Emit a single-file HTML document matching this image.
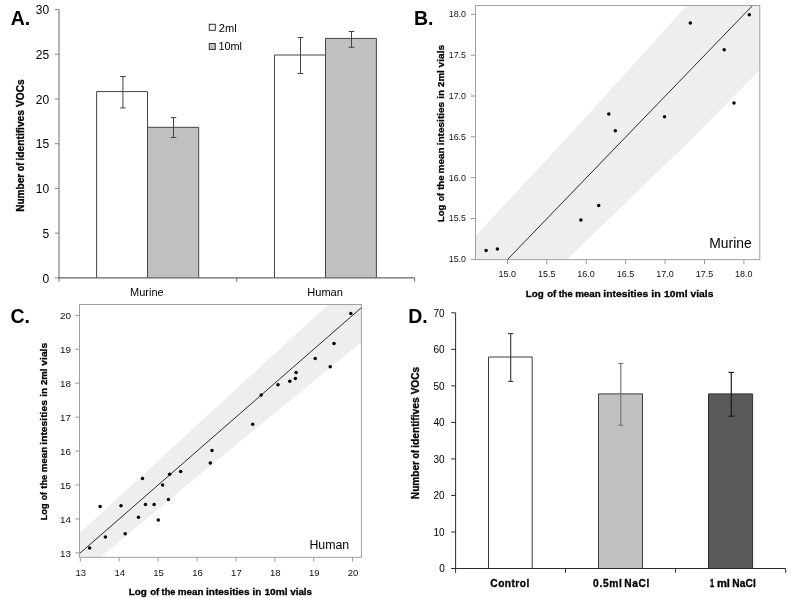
<!DOCTYPE html>
<html><head><meta charset="utf-8"><title>Figure</title>
<style>html,body{margin:0;padding:0;background:#fff;}svg{display:block;will-change:transform;font-family:"Liberation Sans",sans-serif;}text{font-family:"Liberation Sans",sans-serif;}</style></head><body>
<svg width="798" height="598" viewBox="0 0 798 598">
<rect x="0" y="0" width="798" height="598" fill="#ffffff"/>
<!-- Panel A -->
<path d="M96.6,277.9 V91.6 H147.5 V277.9" fill="#fff" stroke="#444" stroke-width="1"/>
<path d="M147.5,277.9 V127.3 H198.7 V277.9" fill="#c0c0c0" stroke="#444" stroke-width="1"/>
<path d="M274.5,277.9 V55.0 H325.5 V277.9" fill="#fff" stroke="#444" stroke-width="1"/>
<path d="M325.5,277.9 V38.4 H376.4 V277.9" fill="#c0c0c0" stroke="#444" stroke-width="1"/>
<line x1="122.9" y1="76.5" x2="122.9" y2="107.9" stroke="#444" stroke-width="1"/>
<line x1="120.1" y1="76.5" x2="125.7" y2="76.5" stroke="#444" stroke-width="1"/>
<line x1="120.1" y1="107.9" x2="125.7" y2="107.9" stroke="#444" stroke-width="1"/>
<line x1="173.5" y1="117.6" x2="173.5" y2="137.5" stroke="#444" stroke-width="1"/>
<line x1="170.7" y1="117.6" x2="176.3" y2="117.6" stroke="#444" stroke-width="1"/>
<line x1="170.7" y1="137.5" x2="176.3" y2="137.5" stroke="#444" stroke-width="1"/>
<line x1="300.5" y1="37.5" x2="300.5" y2="73.5" stroke="#444" stroke-width="1"/>
<line x1="297.7" y1="37.5" x2="303.3" y2="37.5" stroke="#444" stroke-width="1"/>
<line x1="297.7" y1="73.5" x2="303.3" y2="73.5" stroke="#444" stroke-width="1"/>
<line x1="351.5" y1="31.5" x2="351.5" y2="47.3" stroke="#444" stroke-width="1"/>
<line x1="348.7" y1="31.5" x2="354.3" y2="31.5" stroke="#444" stroke-width="1"/>
<line x1="348.7" y1="47.3" x2="354.3" y2="47.3" stroke="#444" stroke-width="1"/>
<line x1="59.0" y1="9.5" x2="59.0" y2="277.9" stroke="#8c8c8c" stroke-width="1.3"/>
<line x1="58.4" y1="277.9" x2="414.6" y2="277.9" stroke="#666" stroke-width="1.2"/>
<line x1="54.8" y1="277.9" x2="59.0" y2="277.9" stroke="#868686" stroke-width="1"/>
<text x="49.1" y="282.6" font-size="12" text-anchor="end" fill="#000">0</text>
<line x1="54.8" y1="233.17" x2="59.0" y2="233.17" stroke="#868686" stroke-width="1"/>
<text x="49.1" y="237.9" font-size="12" text-anchor="end" fill="#000">5</text>
<line x1="54.8" y1="188.43" x2="59.0" y2="188.43" stroke="#868686" stroke-width="1"/>
<text x="49.1" y="193.1" font-size="12" text-anchor="end" fill="#000">10</text>
<line x1="54.8" y1="143.7" x2="59.0" y2="143.7" stroke="#868686" stroke-width="1"/>
<text x="49.1" y="148.4" font-size="12" text-anchor="end" fill="#000">15</text>
<line x1="54.8" y1="98.97" x2="59.0" y2="98.97" stroke="#868686" stroke-width="1"/>
<text x="49.1" y="103.7" font-size="12" text-anchor="end" fill="#000">20</text>
<line x1="54.8" y1="54.23" x2="59.0" y2="54.23" stroke="#868686" stroke-width="1"/>
<text x="49.1" y="58.9" font-size="12" text-anchor="end" fill="#000">25</text>
<line x1="54.8" y1="9.5" x2="59.0" y2="9.5" stroke="#868686" stroke-width="1"/>
<text x="49.1" y="14.2" font-size="12" text-anchor="end" fill="#000">30</text>
<line x1="59.0" y1="277.9" x2="59.0" y2="281.6" stroke="#666" stroke-width="1"/>
<line x1="236.8" y1="277.9" x2="236.8" y2="281.6" stroke="#666" stroke-width="1"/>
<line x1="414.6" y1="277.9" x2="414.6" y2="281.6" stroke="#666" stroke-width="1"/>
<text x="130.1" y="296" font-size="11" text-anchor="start" fill="#000" textLength="33.5" lengthAdjust="spacingAndGlyphs">Murine</text>
<text x="307.3" y="296" font-size="11" text-anchor="start" fill="#000" textLength="35.6" lengthAdjust="spacingAndGlyphs">Human</text>
<rect x="209.3" y="24.3" width="6.0" height="6.0" fill="#fff" stroke="#333" stroke-width="1"/>
<rect x="209.3" y="43.5" width="6.0" height="6.0" fill="#c0c0c0" stroke="#333" stroke-width="1"/>
<text x="218.8" y="31.7" font-size="10.5" text-anchor="start" fill="#000" textLength="17.8" lengthAdjust="spacingAndGlyphs">2ml</text>
<text x="218.4" y="50.3" font-size="10.5" text-anchor="start" fill="#000" textLength="23.6" lengthAdjust="spacingAndGlyphs">10ml</text>
<text x="10.7" y="24.8" font-size="19.5" text-anchor="start" fill="#000" font-weight="bold">A.</text>
<text x="24.4" y="211.86" font-size="10" text-anchor="start" fill="#000" font-weight="bold" stroke="#000" stroke-width="0.3" textLength="38.19" lengthAdjust="spacingAndGlyphs" transform="rotate(-90 24.4 211.86)">Number</text>
<text x="24.4" y="171.13" font-size="10" text-anchor="start" fill="#000" font-weight="bold" stroke="#000" stroke-width="0.3" textLength="8.42" lengthAdjust="spacingAndGlyphs" transform="rotate(-90 24.4 171.13)">of</text>
<text x="24.4" y="160.49" font-size="10" text-anchor="start" fill="#000" font-weight="bold" stroke="#000" stroke-width="0.3" textLength="50.48" lengthAdjust="spacingAndGlyphs" transform="rotate(-90 24.4 160.49)">identifives</text>
<text x="24.4" y="106.95" font-size="10" text-anchor="start" fill="#000" font-weight="bold" stroke="#000" stroke-width="0.3" textLength="27.54" lengthAdjust="spacingAndGlyphs" transform="rotate(-90 24.4 106.95)">VOCs</text>
<!-- Panel B -->
<polygon points="475.5,235.8 555.6,150 600,101.6 686.6,5.5 759.8,5.5 759.8,70.3 680.3,150 566.9,259.6 475.5,259.6" fill="#eeeeee"/>
<line x1="507.4" y1="259.6" x2="752.6" y2="5.5" stroke="#222" stroke-width="0.95"/>
<circle cx="486.1" cy="250.4" r="1.75" fill="#000"/>
<circle cx="497.4" cy="249.1" r="1.75" fill="#000"/>
<circle cx="580.9" cy="220" r="1.75" fill="#000"/>
<circle cx="598.7" cy="205.5" r="1.75" fill="#000"/>
<circle cx="608.8" cy="113.9" r="1.75" fill="#000"/>
<circle cx="615.3" cy="130.7" r="1.75" fill="#000"/>
<circle cx="664.5" cy="116.7" r="1.75" fill="#000"/>
<circle cx="690.3" cy="23.1" r="1.75" fill="#000"/>
<circle cx="724.2" cy="49.7" r="1.75" fill="#000"/>
<circle cx="734" cy="103.1" r="1.75" fill="#000"/>
<circle cx="749.3" cy="14.8" r="1.75" fill="#000"/>
<rect x="475.5" y="5.5" width="284.3" height="254.1" fill="none" stroke="#a0a0a0" stroke-width="1"/>
<line x1="470.8" y1="259.4" x2="475.5" y2="259.4" stroke="#999" stroke-width="1"/>
<text x="466" y="262.3" font-size="9.5" text-anchor="end" fill="#111" textLength="17.3" lengthAdjust="spacingAndGlyphs">15.0</text>
<line x1="507.4" y1="259.6" x2="507.4" y2="264.2" stroke="#999" stroke-width="1"/>
<text x="507.3" y="276.8" font-size="9.5" text-anchor="middle" fill="#111" textLength="17.5" lengthAdjust="spacingAndGlyphs">15.0</text>
<line x1="470.8" y1="218.55" x2="475.5" y2="218.55" stroke="#999" stroke-width="1"/>
<text x="466" y="221.4" font-size="9.5" text-anchor="end" fill="#111" textLength="17.3" lengthAdjust="spacingAndGlyphs">15.5</text>
<line x1="546.82" y1="259.6" x2="546.82" y2="264.2" stroke="#999" stroke-width="1"/>
<text x="546.7" y="276.8" font-size="9.5" text-anchor="middle" fill="#111" textLength="17.5" lengthAdjust="spacingAndGlyphs">15.5</text>
<line x1="470.8" y1="177.7" x2="475.5" y2="177.7" stroke="#999" stroke-width="1"/>
<text x="466" y="180.6" font-size="9.5" text-anchor="end" fill="#111" textLength="17.3" lengthAdjust="spacingAndGlyphs">16.0</text>
<line x1="586.25" y1="259.6" x2="586.25" y2="264.2" stroke="#999" stroke-width="1"/>
<text x="586.1" y="276.8" font-size="9.5" text-anchor="middle" fill="#111" textLength="17.5" lengthAdjust="spacingAndGlyphs">16.0</text>
<line x1="470.8" y1="136.85" x2="475.5" y2="136.85" stroke="#999" stroke-width="1"/>
<text x="466" y="139.7" font-size="9.5" text-anchor="end" fill="#111" textLength="17.3" lengthAdjust="spacingAndGlyphs">16.5</text>
<line x1="625.67" y1="259.6" x2="625.67" y2="264.2" stroke="#999" stroke-width="1"/>
<text x="625.6" y="276.8" font-size="9.5" text-anchor="middle" fill="#111" textLength="17.5" lengthAdjust="spacingAndGlyphs">16.5</text>
<line x1="470.8" y1="96.0" x2="475.5" y2="96.0" stroke="#999" stroke-width="1"/>
<text x="466" y="98.9" font-size="9.5" text-anchor="end" fill="#111" textLength="17.3" lengthAdjust="spacingAndGlyphs">17.0</text>
<line x1="665.1" y1="259.6" x2="665.1" y2="264.2" stroke="#999" stroke-width="1"/>
<text x="665.0" y="276.8" font-size="9.5" text-anchor="middle" fill="#111" textLength="17.5" lengthAdjust="spacingAndGlyphs">17.0</text>
<line x1="470.8" y1="55.15" x2="475.5" y2="55.15" stroke="#999" stroke-width="1"/>
<text x="466" y="58.0" font-size="9.5" text-anchor="end" fill="#111" textLength="17.3" lengthAdjust="spacingAndGlyphs">17.5</text>
<line x1="704.52" y1="259.6" x2="704.52" y2="264.2" stroke="#999" stroke-width="1"/>
<text x="704.4" y="276.8" font-size="9.5" text-anchor="middle" fill="#111" textLength="17.5" lengthAdjust="spacingAndGlyphs">17.5</text>
<line x1="470.8" y1="14.3" x2="475.5" y2="14.3" stroke="#999" stroke-width="1"/>
<text x="466" y="17.2" font-size="9.5" text-anchor="end" fill="#111" textLength="17.3" lengthAdjust="spacingAndGlyphs">18.0</text>
<line x1="743.95" y1="259.6" x2="743.95" y2="264.2" stroke="#999" stroke-width="1"/>
<text x="743.8" y="276.8" font-size="9.5" text-anchor="middle" fill="#111" textLength="17.5" lengthAdjust="spacingAndGlyphs">18.0</text>
<text x="709.3" y="247.7" font-size="14.5" text-anchor="start" fill="#000" textLength="42.4" lengthAdjust="spacingAndGlyphs">Murine</text>
<text x="414.0" y="24.6" font-size="19.5" text-anchor="start" fill="#000" font-weight="bold">B.</text>
<text x="525.86" y="296.8" font-size="9.7" text-anchor="start" fill="#000" font-weight="bold" stroke="#000" stroke-width="0.3" textLength="17.98" lengthAdjust="spacingAndGlyphs">Log</text>
<text x="547.24" y="296.8" font-size="9.7" text-anchor="start" fill="#000" font-weight="bold" stroke="#000" stroke-width="0.3" textLength="9.05" lengthAdjust="spacingAndGlyphs">of</text>
<text x="558.71" y="296.8" font-size="9.7" text-anchor="start" fill="#000" font-weight="bold" stroke="#000" stroke-width="0.3" textLength="14.0" lengthAdjust="spacingAndGlyphs">the</text>
<text x="575.16" y="296.8" font-size="9.7" text-anchor="start" fill="#000" font-weight="bold" stroke="#000" stroke-width="0.3" textLength="25.62" lengthAdjust="spacingAndGlyphs">mean</text>
<text x="603.3" y="296.8" font-size="9.7" text-anchor="start" fill="#000" font-weight="bold" stroke="#000" stroke-width="0.3" textLength="44.89" lengthAdjust="spacingAndGlyphs">intesities</text>
<text x="651.28" y="296.8" font-size="9.7" text-anchor="start" fill="#000" font-weight="bold" stroke="#000" stroke-width="0.3" textLength="9.47" lengthAdjust="spacingAndGlyphs">in</text>
<text x="664.06" y="296.8" font-size="9.7" text-anchor="start" fill="#000" font-weight="bold" stroke="#000" stroke-width="0.3" textLength="23.46" lengthAdjust="spacingAndGlyphs">10ml</text>
<text x="690.57" y="296.8" font-size="9.7" text-anchor="start" fill="#000" font-weight="bold" stroke="#000" stroke-width="0.3" textLength="22.83" lengthAdjust="spacingAndGlyphs">vials</text>
<text x="443.9" y="221.9" font-size="9.7" text-anchor="start" fill="#000" font-weight="bold" stroke="#000" stroke-width="0.3" textLength="17.01" lengthAdjust="spacingAndGlyphs" transform="rotate(-90 443.9 221.9)">Log</text>
<text x="443.9" y="201.33" font-size="9.7" text-anchor="start" fill="#000" font-weight="bold" stroke="#000" stroke-width="0.3" textLength="8.22" lengthAdjust="spacingAndGlyphs" transform="rotate(-90 443.9 201.33)">of</text>
<text x="443.9" y="189.8" font-size="9.7" text-anchor="start" fill="#000" font-weight="bold" stroke="#000" stroke-width="0.3" textLength="14.31" lengthAdjust="spacingAndGlyphs" transform="rotate(-90 443.9 189.8)">the</text>
<text x="443.9" y="173.45" font-size="9.7" text-anchor="start" fill="#000" font-weight="bold" stroke="#000" stroke-width="0.3" textLength="26.05" lengthAdjust="spacingAndGlyphs" transform="rotate(-90 443.9 173.45)">mean</text>
<text x="443.9" y="145.28" font-size="9.7" text-anchor="start" fill="#000" font-weight="bold" stroke="#000" stroke-width="0.3" textLength="43.45" lengthAdjust="spacingAndGlyphs" transform="rotate(-90 443.9 145.28)">intesities</text>
<text x="443.9" y="98.67" font-size="9.7" text-anchor="start" fill="#000" font-weight="bold" stroke="#000" stroke-width="0.3" textLength="8.77" lengthAdjust="spacingAndGlyphs" transform="rotate(-90 443.9 98.67)">in</text>
<text x="443.9" y="87.02" font-size="9.7" text-anchor="start" fill="#000" font-weight="bold" stroke="#000" stroke-width="0.3" textLength="16.81" lengthAdjust="spacingAndGlyphs" transform="rotate(-90 443.9 87.02)">2ml</text>
<text x="443.9" y="67.43" font-size="9.7" text-anchor="start" fill="#000" font-weight="bold" stroke="#000" stroke-width="0.3" textLength="22.52" lengthAdjust="spacingAndGlyphs" transform="rotate(-90 443.9 67.43)">vials</text>
<!-- Panel C -->
<polygon points="79.5,533.3 200,422.2 328.3,304.5 361.4,304.5 361.4,341.9 232.1,448 200,474.3 100.4,557.3 79.5,557.3" fill="#eeeeee"/>
<line x1="79.5" y1="553.6" x2="361.4" y2="307.64" stroke="#222" stroke-width="0.95"/>
<circle cx="89.6" cy="547.9" r="1.75" fill="#000"/>
<circle cx="105.4" cy="537.1" r="1.75" fill="#000"/>
<circle cx="100.1" cy="506.5" r="1.75" fill="#000"/>
<circle cx="121" cy="505.7" r="1.75" fill="#000"/>
<circle cx="125.2" cy="533.8" r="1.75" fill="#000"/>
<circle cx="138.5" cy="517.3" r="1.75" fill="#000"/>
<circle cx="142.5" cy="478.4" r="1.75" fill="#000"/>
<circle cx="145.5" cy="504.5" r="1.75" fill="#000"/>
<circle cx="154.1" cy="504.5" r="1.75" fill="#000"/>
<circle cx="158.3" cy="520" r="1.75" fill="#000"/>
<circle cx="162.6" cy="484.9" r="1.75" fill="#000"/>
<circle cx="168.4" cy="499.4" r="1.75" fill="#000"/>
<circle cx="169.6" cy="474.3" r="1.75" fill="#000"/>
<circle cx="180.7" cy="471.6" r="1.75" fill="#000"/>
<circle cx="212" cy="450.5" r="1.75" fill="#000"/>
<circle cx="210.3" cy="463.1" r="1.75" fill="#000"/>
<circle cx="350.8" cy="313.6" r="1.75" fill="#000"/>
<circle cx="334" cy="343.4" r="1.75" fill="#000"/>
<circle cx="315.2" cy="358.5" r="1.75" fill="#000"/>
<circle cx="330.2" cy="366.8" r="1.75" fill="#000"/>
<circle cx="296.1" cy="372.5" r="1.75" fill="#000"/>
<circle cx="295.4" cy="378.6" r="1.75" fill="#000"/>
<circle cx="289.8" cy="381.3" r="1.75" fill="#000"/>
<circle cx="278" cy="384.8" r="1.75" fill="#000"/>
<circle cx="261.2" cy="395.1" r="1.75" fill="#000"/>
<circle cx="252.7" cy="424.2" r="1.75" fill="#000"/>
<rect x="79.5" y="304.5" width="281.9" height="252.8" fill="none" stroke="#a0a0a0" stroke-width="1"/>
<line x1="75.2" y1="552.9" x2="79.5" y2="552.9" stroke="#999" stroke-width="1"/>
<text x="71.0" y="556.6" font-size="9.6" text-anchor="end" fill="#111" textLength="11.0" lengthAdjust="spacingAndGlyphs">13</text>
<line x1="80.3" y1="557.3" x2="80.3" y2="561.5" stroke="#999" stroke-width="1"/>
<text x="80.8" y="575.6" font-size="9.6" text-anchor="middle" fill="#111" textLength="10.6" lengthAdjust="spacingAndGlyphs">13</text>
<line x1="75.2" y1="518.96" x2="79.5" y2="518.96" stroke="#999" stroke-width="1"/>
<text x="71.0" y="522.7" font-size="9.6" text-anchor="end" fill="#111" textLength="11.0" lengthAdjust="spacingAndGlyphs">14</text>
<line x1="119.2" y1="557.3" x2="119.2" y2="561.5" stroke="#999" stroke-width="1"/>
<text x="119.7" y="575.6" font-size="9.6" text-anchor="middle" fill="#111" textLength="10.6" lengthAdjust="spacingAndGlyphs">14</text>
<line x1="75.2" y1="485.02" x2="79.5" y2="485.02" stroke="#999" stroke-width="1"/>
<text x="71.0" y="488.7" font-size="9.6" text-anchor="end" fill="#111" textLength="11.0" lengthAdjust="spacingAndGlyphs">15</text>
<line x1="158.1" y1="557.3" x2="158.1" y2="561.5" stroke="#999" stroke-width="1"/>
<text x="158.6" y="575.6" font-size="9.6" text-anchor="middle" fill="#111" textLength="10.6" lengthAdjust="spacingAndGlyphs">15</text>
<line x1="75.2" y1="451.08" x2="79.5" y2="451.08" stroke="#999" stroke-width="1"/>
<text x="71.0" y="454.8" font-size="9.6" text-anchor="end" fill="#111" textLength="11.0" lengthAdjust="spacingAndGlyphs">16</text>
<line x1="197.0" y1="557.3" x2="197.0" y2="561.5" stroke="#999" stroke-width="1"/>
<text x="197.5" y="575.6" font-size="9.6" text-anchor="middle" fill="#111" textLength="10.6" lengthAdjust="spacingAndGlyphs">16</text>
<line x1="75.2" y1="417.14" x2="79.5" y2="417.14" stroke="#999" stroke-width="1"/>
<text x="71.0" y="420.8" font-size="9.6" text-anchor="end" fill="#111" textLength="11.0" lengthAdjust="spacingAndGlyphs">17</text>
<line x1="235.9" y1="557.3" x2="235.9" y2="561.5" stroke="#999" stroke-width="1"/>
<text x="236.4" y="575.6" font-size="9.6" text-anchor="middle" fill="#111" textLength="10.6" lengthAdjust="spacingAndGlyphs">17</text>
<line x1="75.2" y1="383.2" x2="79.5" y2="383.2" stroke="#999" stroke-width="1"/>
<text x="71.0" y="386.9" font-size="9.6" text-anchor="end" fill="#111" textLength="11.0" lengthAdjust="spacingAndGlyphs">18</text>
<line x1="274.8" y1="557.3" x2="274.8" y2="561.5" stroke="#999" stroke-width="1"/>
<text x="275.3" y="575.6" font-size="9.6" text-anchor="middle" fill="#111" textLength="10.6" lengthAdjust="spacingAndGlyphs">18</text>
<line x1="75.2" y1="349.26" x2="79.5" y2="349.26" stroke="#999" stroke-width="1"/>
<text x="71.0" y="353.0" font-size="9.6" text-anchor="end" fill="#111" textLength="11.0" lengthAdjust="spacingAndGlyphs">19</text>
<line x1="313.7" y1="557.3" x2="313.7" y2="561.5" stroke="#999" stroke-width="1"/>
<text x="314.2" y="575.6" font-size="9.6" text-anchor="middle" fill="#111" textLength="10.6" lengthAdjust="spacingAndGlyphs">19</text>
<line x1="75.2" y1="315.32" x2="79.5" y2="315.32" stroke="#999" stroke-width="1"/>
<text x="71.0" y="319.0" font-size="9.6" text-anchor="end" fill="#111" textLength="11.0" lengthAdjust="spacingAndGlyphs">20</text>
<line x1="352.6" y1="557.3" x2="352.6" y2="561.5" stroke="#999" stroke-width="1"/>
<text x="353.1" y="575.6" font-size="9.6" text-anchor="middle" fill="#111" textLength="10.6" lengthAdjust="spacingAndGlyphs">20</text>
<text x="309.4" y="548.9" font-size="12.5" text-anchor="start" fill="#000" textLength="39.8" lengthAdjust="spacingAndGlyphs">Human</text>
<text x="10.5" y="323.1" font-size="19.5" text-anchor="start" fill="#000" font-weight="bold">C.</text>
<text x="128.75" y="594.6" font-size="9.7" text-anchor="start" fill="#000" font-weight="bold" stroke="#000" stroke-width="0.3" textLength="18.19" lengthAdjust="spacingAndGlyphs">Log</text>
<text x="150.14" y="594.6" font-size="9.7" text-anchor="start" fill="#000" font-weight="bold" stroke="#000" stroke-width="0.3" textLength="9.05" lengthAdjust="spacingAndGlyphs">of</text>
<text x="161.61" y="594.6" font-size="9.7" text-anchor="start" fill="#000" font-weight="bold" stroke="#000" stroke-width="0.3" textLength="13.79" lengthAdjust="spacingAndGlyphs">the</text>
<text x="177.86" y="594.6" font-size="9.7" text-anchor="start" fill="#000" font-weight="bold" stroke="#000" stroke-width="0.3" textLength="25.73" lengthAdjust="spacingAndGlyphs">mean</text>
<text x="206.02" y="594.6" font-size="9.7" text-anchor="start" fill="#000" font-weight="bold" stroke="#000" stroke-width="0.3" textLength="43.45" lengthAdjust="spacingAndGlyphs">intesities</text>
<text x="252.53" y="594.6" font-size="9.7" text-anchor="start" fill="#000" font-weight="bold" stroke="#000" stroke-width="0.3" textLength="8.77" lengthAdjust="spacingAndGlyphs">in</text>
<text x="264.46" y="594.6" font-size="9.7" text-anchor="start" fill="#000" font-weight="bold" stroke="#000" stroke-width="0.3" textLength="23.24" lengthAdjust="spacingAndGlyphs">10ml</text>
<text x="290.18" y="594.6" font-size="9.7" text-anchor="start" fill="#000" font-weight="bold" stroke="#000" stroke-width="0.3" textLength="21.91" lengthAdjust="spacingAndGlyphs">vials</text>
<text x="47.1" y="520.3" font-size="9.7" text-anchor="start" fill="#000" font-weight="bold" stroke="#000" stroke-width="0.3" textLength="16.9" lengthAdjust="spacingAndGlyphs" transform="rotate(-90 47.1 520.3)">Log</text>
<text x="47.1" y="500.23" font-size="9.7" text-anchor="start" fill="#000" font-weight="bold" stroke="#000" stroke-width="0.3" textLength="8.22" lengthAdjust="spacingAndGlyphs" transform="rotate(-90 47.1 500.23)">of</text>
<text x="47.1" y="488.69" font-size="9.7" text-anchor="start" fill="#000" font-weight="bold" stroke="#000" stroke-width="0.3" textLength="13.89" lengthAdjust="spacingAndGlyphs" transform="rotate(-90 47.1 488.69)">the</text>
<text x="47.1" y="472.34" font-size="9.7" text-anchor="start" fill="#000" font-weight="bold" stroke="#000" stroke-width="0.3" textLength="25.62" lengthAdjust="spacingAndGlyphs" transform="rotate(-90 47.1 472.34)">mean</text>
<text x="47.1" y="444.69" font-size="9.7" text-anchor="start" fill="#000" font-weight="bold" stroke="#000" stroke-width="0.3" textLength="44.58" lengthAdjust="spacingAndGlyphs" transform="rotate(-90 47.1 444.69)">intesities</text>
<text x="47.1" y="396.67" font-size="9.7" text-anchor="start" fill="#000" font-weight="bold" stroke="#000" stroke-width="0.3" textLength="8.77" lengthAdjust="spacingAndGlyphs" transform="rotate(-90 47.1 396.67)">in</text>
<text x="47.1" y="385.01" font-size="9.7" text-anchor="start" fill="#000" font-weight="bold" stroke="#000" stroke-width="0.3" textLength="16.49" lengthAdjust="spacingAndGlyphs" transform="rotate(-90 47.1 385.01)">2ml</text>
<text x="47.1" y="365.63" font-size="9.7" text-anchor="start" fill="#000" font-weight="bold" stroke="#000" stroke-width="0.3" textLength="22.73" lengthAdjust="spacingAndGlyphs" transform="rotate(-90 47.1 365.63)">vials</text>
<!-- Panel D -->
<path d="M488.5,568.5 V357.0 H532.2 V568.5" fill="#fff" stroke="#3c3c3c" stroke-width="1"/>
<path d="M598.5,568.5 V393.9 H642.5 V568.5" fill="#c0c0c0" stroke="#3c3c3c" stroke-width="1"/>
<path d="M708.5,568.5 V393.9 H752.6 V568.5" fill="#595959" stroke="#2e2e2e" stroke-width="1"/>
<line x1="510.7" y1="333.6" x2="510.7" y2="381.4" stroke="#333" stroke-width="1.1"/>
<line x1="508.2" y1="333.6" x2="513.2" y2="333.6" stroke="#333" stroke-width="1.1"/>
<line x1="508.2" y1="381.4" x2="513.2" y2="381.4" stroke="#333" stroke-width="1.1"/>
<line x1="620.8" y1="363.5" x2="620.8" y2="425.2" stroke="#777" stroke-width="1.2"/>
<line x1="618.3" y1="363.5" x2="623.3" y2="363.5" stroke="#777" stroke-width="1.2"/>
<line x1="618.3" y1="425.2" x2="623.3" y2="425.2" stroke="#777" stroke-width="1.2"/>
<line x1="731.3" y1="372.4" x2="731.3" y2="416.2" stroke="#1c1c1c" stroke-width="1.2"/>
<line x1="728.6" y1="372.4" x2="734.0" y2="372.4" stroke="#1c1c1c" stroke-width="1.2"/>
<line x1="728.6" y1="416.2" x2="734.0" y2="416.2" stroke="#1c1c1c" stroke-width="1.2"/>
<line x1="455.6" y1="312.8" x2="455.6" y2="568.5" stroke="#2a2a2a" stroke-width="1"/>
<line x1="455.1" y1="568.5" x2="785.7" y2="568.5" stroke="#2a2a2a" stroke-width="1"/>
<line x1="451.2" y1="568.5" x2="455.6" y2="568.5" stroke="#2a2a2a" stroke-width="1"/>
<text x="444.7" y="572.3" font-size="10" text-anchor="end" fill="#000">0</text>
<line x1="451.2" y1="531.97" x2="455.6" y2="531.97" stroke="#2a2a2a" stroke-width="1"/>
<text x="444.7" y="535.8" font-size="10" text-anchor="end" fill="#000">10</text>
<line x1="451.2" y1="495.44" x2="455.6" y2="495.44" stroke="#2a2a2a" stroke-width="1"/>
<text x="444.7" y="499.2" font-size="10" text-anchor="end" fill="#000">20</text>
<line x1="451.2" y1="458.91" x2="455.6" y2="458.91" stroke="#2a2a2a" stroke-width="1"/>
<text x="444.7" y="462.7" font-size="10" text-anchor="end" fill="#000">30</text>
<line x1="451.2" y1="422.39" x2="455.6" y2="422.39" stroke="#2a2a2a" stroke-width="1"/>
<text x="444.7" y="426.2" font-size="10" text-anchor="end" fill="#000">40</text>
<line x1="451.2" y1="385.86" x2="455.6" y2="385.86" stroke="#2a2a2a" stroke-width="1"/>
<text x="444.7" y="389.7" font-size="10" text-anchor="end" fill="#000">50</text>
<line x1="451.2" y1="349.33" x2="455.6" y2="349.33" stroke="#2a2a2a" stroke-width="1"/>
<text x="444.7" y="353.1" font-size="10" text-anchor="end" fill="#000">60</text>
<line x1="451.2" y1="312.8" x2="455.6" y2="312.8" stroke="#2a2a2a" stroke-width="1"/>
<text x="444.7" y="316.6" font-size="10" text-anchor="end" fill="#000">70</text>
<line x1="455.6" y1="568.5" x2="455.6" y2="572.8" stroke="#2a2a2a" stroke-width="1"/>
<line x1="565.5" y1="568.5" x2="565.5" y2="572.8" stroke="#2a2a2a" stroke-width="1"/>
<line x1="675.6" y1="568.5" x2="675.6" y2="572.8" stroke="#2a2a2a" stroke-width="1"/>
<line x1="785.7" y1="568.5" x2="785.7" y2="572.8" stroke="#2a2a2a" stroke-width="1"/>
<text x="490.36" y="586.9" font-size="10.2" text-anchor="start" fill="#000" font-weight="bold" stroke="#000" stroke-width="0.3" textLength="38.9" lengthAdjust="spacing">Control</text>
<text x="593.08" y="586.9" font-size="10.2" text-anchor="start" fill="#000" font-weight="bold" stroke="#000" stroke-width="0.3" textLength="28.7" lengthAdjust="spacing">0.5ml</text>
<text x="624.29" y="586.9" font-size="10.2" text-anchor="start" fill="#000" font-weight="bold" stroke="#000" stroke-width="0.3" textLength="24.99" lengthAdjust="spacing">NaCl</text>
<text x="709.69" y="586.9" font-size="10.2" text-anchor="start" fill="#000" font-weight="bold" stroke="#000" stroke-width="0.3" textLength="4.52" lengthAdjust="spacingAndGlyphs">1</text>
<text x="716.98" y="586.9" font-size="10.2" text-anchor="start" fill="#000" font-weight="bold" stroke="#000" stroke-width="0.3" textLength="13.0" lengthAdjust="spacingAndGlyphs">ml</text>
<text x="732.33" y="586.9" font-size="10.2" text-anchor="start" fill="#000" font-weight="bold" stroke="#000" stroke-width="0.3" textLength="23.4" lengthAdjust="spacing">NaCl</text>
<text x="408.2" y="323.1" font-size="19.5" text-anchor="start" fill="#000" font-weight="bold">D.</text>
<text x="419.3" y="499.16" font-size="10" text-anchor="start" fill="#000" font-weight="bold" stroke="#000" stroke-width="0.3" textLength="38.19" lengthAdjust="spacingAndGlyphs" transform="rotate(-90 419.3 499.16)">Number</text>
<text x="419.3" y="458.43" font-size="10" text-anchor="start" fill="#000" font-weight="bold" stroke="#000" stroke-width="0.3" textLength="8.42" lengthAdjust="spacingAndGlyphs" transform="rotate(-90 419.3 458.43)">of</text>
<text x="419.3" y="447.79" font-size="10" text-anchor="start" fill="#000" font-weight="bold" stroke="#000" stroke-width="0.3" textLength="50.38" lengthAdjust="spacingAndGlyphs" transform="rotate(-90 419.3 447.79)">identifives</text>
<text x="419.3" y="394.35" font-size="10" text-anchor="start" fill="#000" font-weight="bold" stroke="#000" stroke-width="0.3" textLength="27.44" lengthAdjust="spacingAndGlyphs" transform="rotate(-90 419.3 394.35)">VOCs</text>
</svg></body></html>
